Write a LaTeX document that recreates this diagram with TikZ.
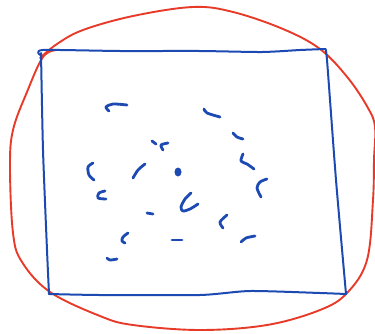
\documentclass[tikz,border=0pt]{standalone}
\definecolor{inkb}{RGB}{28,74,178}
\definecolor{inkr}{RGB}{232,58,40}
\begin{document}
\begin{tikzpicture}[x=1pt,y=-1pt,line cap=round,line join=round,
  inkblue/.style={draw=inkb,line width=2pt},
  inkdot/.style={draw=inkb,line width=2.8pt},
  inkred/.style={draw=inkr,line width=1.9pt}]
\useasboundingbox (0,0) rectangle (375,333);
% red blob
\draw[inkred] plot[smooth,tension=0.6] coordinates {(40,58) (57,44) (83,30) (133,16) (193,7) (233,12) (283,29) (320,49) (348,78) (368,108) (375,127) (374,160) (373,200) (367,260) (347,293) (320,310) (267,325) (200,330) (133,325) (100,316) (50,292) (22,262) (13,233) (10,167) (13,130) (27,92) (43,57) (57,50)};
% blue square
\draw[inkblue] plot[smooth,tension=0.4] coordinates {(40,55) (43,50) (120,51) (200,51) (262,52) (300,50) (325,49)};
\draw[inkblue] plot[smooth,tension=0.4] coordinates {(325,49) (327,60) (336,180) (346,294)};
\draw[inkblue] plot[smooth,tension=0.4] coordinates {(346,294) (320,293) (250,291) (200,295) (100,295) (49,294)};
\draw[inkblue] plot[smooth,tension=0.4] coordinates {(49,294) (47,250) (43,150) (41,53)};
% small strokes
\draw[inkdot] plot[smooth] coordinates {(127,105) (113,104) (106,107) (109,111)};
\draw[inkdot] (152,141) -- (156,144);
\draw[inkdot] plot[smooth] coordinates {(168,143) (161,145) (163,150)};
\draw[inkdot] plot[smooth] coordinates {(93,163) (88,167) (89,175) (94,180)};
\draw[inkdot] plot[smooth] coordinates {(145,164) (138,170) (133,178)};
\fill[inkb] (178,172) ellipse (3.5pt and 4.5pt);
\draw[inkdot] plot[smooth] coordinates {(204,109) (207,113) (220,117)};
\draw[inkdot] plot[smooth] coordinates {(233,133) (237,137) (243,139)};
\draw[inkdot] plot[smooth] coordinates {(243,154) (241,161) (247,164) (254,169)};
\draw[inkdot] plot[smooth] coordinates {(267,179) (260,182) (257,188) (261,197)};
\draw[inkdot] plot[smooth] coordinates {(105,191) (99,193) (98,198) (106,199)};
\draw[inkdot] plot[smooth] coordinates {(191,193) (185,199) (181,207) (183,211) (190,209) (198,204)};
\draw[inkdot] (147,213) -- (153,214);
\draw[inkdot] plot[smooth] coordinates {(227,215) (220,222) (223,228)};
\draw[inkdot] plot[smooth] coordinates {(128,233) (123,237) (122,241) (125,243)};
\draw[inkdot] (172,240) -- (182,240);
\draw[inkdot] plot[smooth] coordinates {(255,236) (246,238) (241,242)};
\draw[inkdot] plot[smooth] coordinates {(107,258) (110,260) (117,259)};
\end{tikzpicture}
\end{document}
